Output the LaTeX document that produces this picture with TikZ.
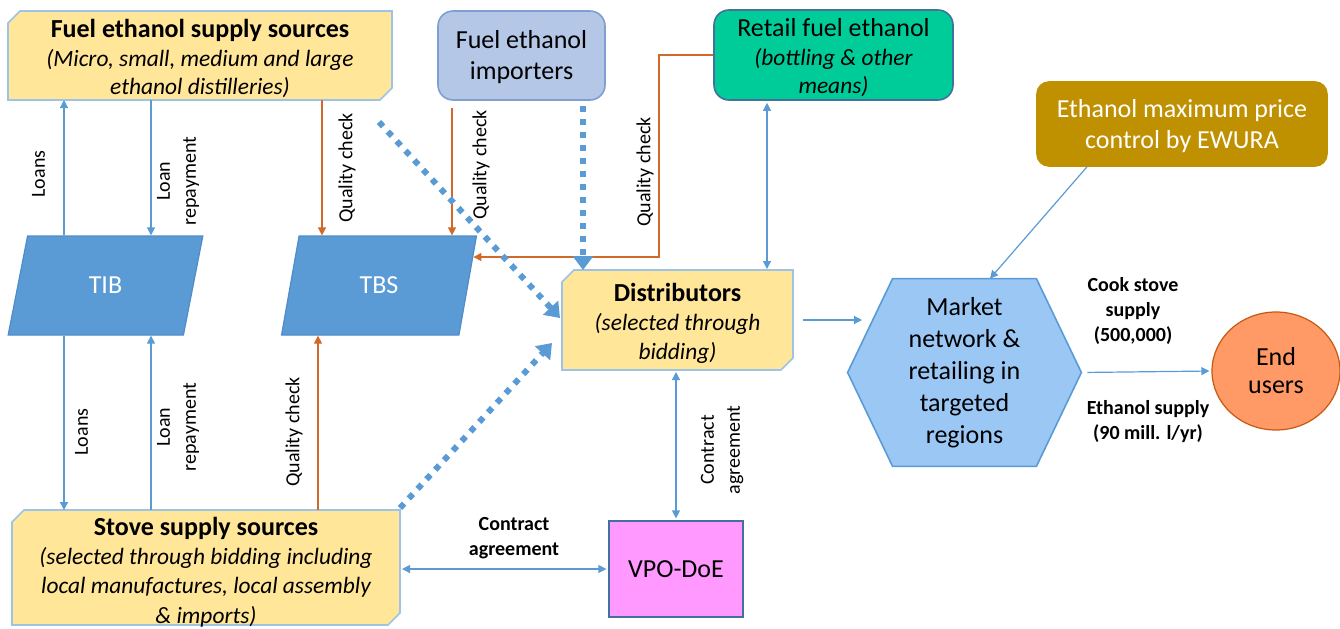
\documentclass[tikz,border=0pt]{standalone}
\usepackage{fontspec}
\setmainfont{Carlito}
\usetikzlibrary{shapes.misc,shapes.geometric,arrows.meta,backgrounds}
\definecolor{ylw}{HTML}{FFE699}
\definecolor{snipline}{HTML}{9DC3E6}
\definecolor{blu}{HTML}{5B9BD5}
\definecolor{bluline}{HTML}{4F8CC9}
\definecolor{org}{HTML}{D0692A}
\definecolor{impfill}{HTML}{B4C7E7}
\definecolor{impline}{HTML}{7F9FD0}
\definecolor{retfill}{HTML}{00CC99}
\definecolor{retline}{HTML}{41719C}
\definecolor{ewfill}{HTML}{BF9000}
\definecolor{hexfill}{HTML}{9BC7F5}
\definecolor{endfill}{HTML}{FF9966}
\definecolor{endline}{HTML}{C55A11}
\definecolor{vpofill}{HTML}{FF99FF}
\newcommand\itl[1]{{\fontsize{11.7}{14}\selectfont\itshape #1}}
\newcommand\snipit[1]{\path[fill=ylw, draw=snipline, line width=0.8pt]
  ([xshift=6pt]#1.north west) -- (#1.north east) -- ([yshift=6pt]#1.south east)
  -- ([xshift=-6pt]#1.south east) -- (#1.south west) -- ([yshift=-6pt]#1.north west) -- cycle;}
\begin{document}
\begin{tikzpicture}[x=0.5pt,y=-0.5pt,
  txt/.style={font=\fontsize{13}{#1}\selectfont, align=center, inner sep=0pt},
  box/.style={rectangle, inner sep=0pt, outer sep=0pt},
  rbox/.style={rectangle, rounded corners=7.5pt, line width=0.8pt},
  para/.style={trapezium, trapezium left angle=76, trapezium right angle=104,
    trapezium stretches=true, fill=blu, draw=bluline, line width=0.6pt,
    minimum width=97.5pt, minimum height=49.5pt, text=white, inner sep=0pt,
    font=\fontsize{13}{15}\selectfont},
  lbl/.style={font=\fontsize{10}{13}\selectfont, align=center, inner sep=0pt},
  blbl/.style={font=\bfseries\fontsize{10}{12.5}\selectfont, align=center, inner sep=0pt},
  conn/.style={draw=blu, line width=0.6pt, -{Triangle[width=4pt,length=4pt]}},
  dconn/.style={draw=blu, line width=0.6pt, {Triangle[width=4pt,length=4pt]}-{Triangle[width=4pt,length=4pt]}},
  qc/.style={draw=org, line width=0.6pt, -{Triangle[width=4pt,length=4pt]}},
  dots/.style={draw=blu, line width=3pt, dash pattern=on 3pt off 3.5pt, -{Triangle[width=10pt,length=7pt]}}
]
\useasboundingbox (0,0) rectangle (1340,628);

% snip boxes
\node[box, minimum width=192pt, minimum height=44.5pt] (fuel) at (200,55.5) {};
\snipit{fuel}
\node[txt=14.25] (fuelt) at (200,58.5)
  {\textbf{Fuel ethanol supply sources}\\\itl{(Micro, small, medium and large}\\\itl{ethanol distilleries)}};
\node[box, minimum width=115.5pt, minimum height=50pt] (dist) at (677.5,320) {};
\snipit{dist}
\node[txt=14.5] (distt) at (677.5,323.5)
  {\textbf{Distributors}\\\itl{(selected through}\\\itl{bidding)}};
\node[box, minimum width=194pt, minimum height=57.5pt] (stove) at (206,567.5) {};
\snipit{stove}
\node[txt=14.6] (stovet) at (206,572)
  {\textbf{Stove supply sources}\\\itl{(selected through bidding including}\\\itl{local manufactures, local assembly}\\\itl{\& imports)}};

% other boxes
\node[rbox, fill=impfill, draw=impline, txt=15.5, minimum width=83.5pt, minimum height=44.5pt] (imp) at (521.5,55.5)
  {\rule{0pt}{11pt}Fuel ethanol\\importers};
\node[rbox, fill=retfill, draw=retline, txt=14.25, minimum width=119.5pt, minimum height=45pt] (retail) at (833.5,55)
  {\rule{0pt}{12pt}Retail fuel ethanol\\\itl{(bottling \& other}\\\itl{means)}};
\node[rbox, rounded corners=6pt, fill=ewfill, draw=ewfill, text=white, txt=15.5, minimum width=145pt, minimum height=42pt] (ewura) at (1182,124)
  {\rule{0pt}{11.5pt}Ethanol maximum price\\control by EWURA};
\node[para] (tib) at (105.5,285.5) {TIB};
\node[para] (tbs) at (379,285.5) {TBS};
\node[rectangle, fill=vpofill, draw=retline, line width=0.6pt, txt=15, minimum width=67pt, minimum height=48pt] (vpo) at (676,569) {VPO-DoE};
\node[txt=16, minimum width=116.5pt, minimum height=93.5pt] (market) at (964.5,372.5)
  {Market\\network \&\\retailing in\\targeted\\regions};
\begin{scope}[on background layer]
\draw[fill=hexfill, draw=blu, line width=0.8pt] (market.west) -- ([xshift=22.5pt]market.north west) -- ([xshift=-22.5pt]market.north east)
  -- (market.east) -- ([xshift=-22.5pt]market.south east) -- ([xshift=22.5pt]market.south west) -- cycle;
\end{scope}
\node[ellipse, fill=endfill, draw=endline, line width=0.6pt, txt=14, minimum width=64pt, minimum height=59pt] (end) at (1276,371) {End\\users};

% connectors top
\draw[conn] (64,0 |- tib.north) -- (64,0 |- fuel.south);
\draw[conn] (151,0 |- fuel.south) -- (151,0 |- tib.north);
\draw[qc] (322,0 |- fuel.south) -- (322,0 |- tbs.north);
\draw[qc] ([yshift=-3.5pt]452,0 |- imp.south) -- (452,0 |- tbs.north);
\draw[qc] (retail.west) -- (659,0 |- retail.west) -- (659,257) -- (tbs.17 |- 659,257);
\draw[dots] ([xshift=89.5pt,yshift=-11pt]fuel.south) -- ([xshift=-1pt,yshift=1pt]dist.west);
\draw[dots] ([xshift=30.75pt,yshift=-2.5pt]imp.south) -- (583,0 |- dist.north);
\draw[dots] ([xshift=97pt,yshift=1pt]stove.north) -- ([xshift=-5pt,yshift=-11.5pt]dist.west);
\draw[dconn, shorten <=1pt, shorten >=0.5pt] (767,0 |- retail.south) -- (767,0 |- dist.north);
\draw[conn, shorten <=5pt] (dist.east) -- (862,0 |- dist.east);
\draw[conn] ([xshift=-47.5pt]ewura.south) -- ([xshift=12.75pt]market.north);
\draw[conn, shorten <=3pt, shorten >=1pt] (market.east) -- (end.west);
% connectors bottom
\draw[conn] (64,0 |- tib.south) -- (64,0 |- stove.north);
\draw[conn] (151,0 |- stove.north) -- (151,0 |- tib.south);
\draw[qc] (318,0 |- stove.north) -- (318,0 |- tbs.south);
\draw[dconn, shorten <=1pt, shorten >=1pt] (stove.east |- vpo.west) -- (vpo.west);
\draw[dconn, shorten <=1pt, shorten >=1pt] (dist.south -| vpo.north) -- (vpo.north);

% labels
\node[lbl, rotate=90] (l1) at (38.5,174) {Loans};
\node[lbl, rotate=90] (l2) at (178,181) {Loan\\repayment};
\node[lbl, rotate=90] (q1) at (347,168) {Quality check};
\node[lbl, rotate=90] (q2) at (481,165) {Quality check};
\node[lbl, rotate=90] (q3) at (645,172) {Quality check};
\node[lbl, rotate=90] (q4) at (294,432) {Quality check};
\node[lbl, rotate=90] (l3) at (81.5,432) {Loans};
\node[lbl, rotate=90] (l4) at (178,427) {Loan\\repayment};
\node[lbl, rotate=90] (c1) at (722,450) {Contract\\agreement};
\node[blbl] (c2) at (514,538) {Contract\\agreement};
\node[blbl] (cs) at (1133,311) {Cook stove\\supply\\(500,000)};
\node[blbl] (es) at (1148,422) {Ethanol supply\\(90 mill. l/yr)};
\end{tikzpicture}
\end{document}
